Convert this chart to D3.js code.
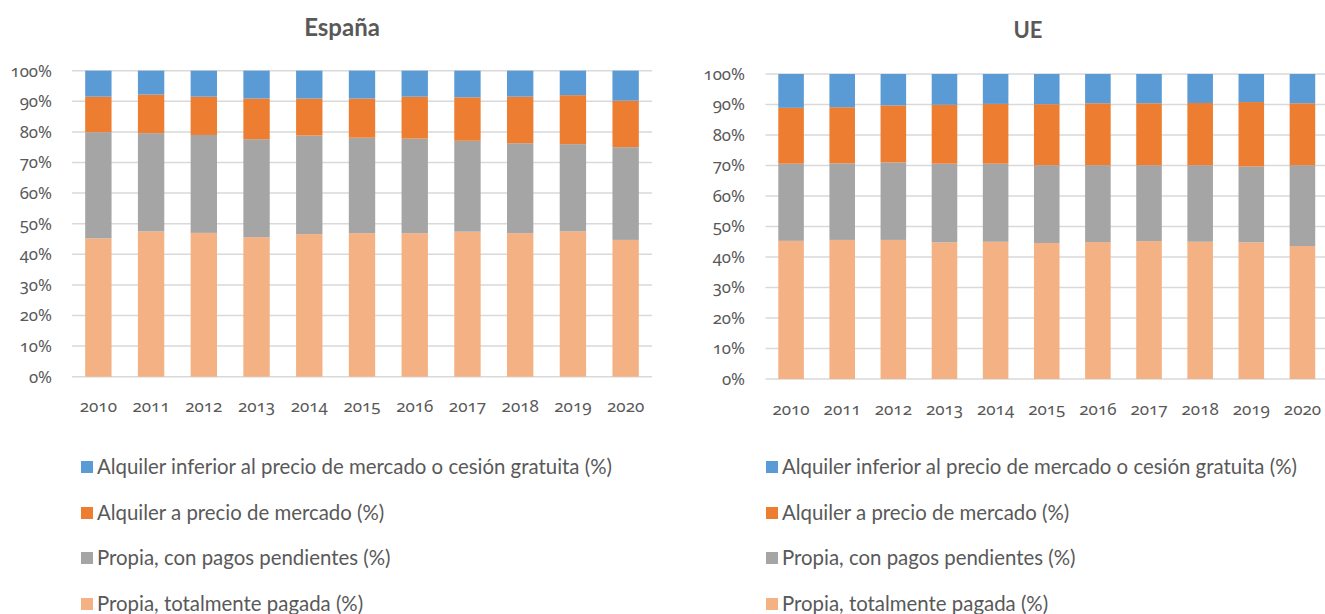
<!DOCTYPE html>
<html>
<head>
<meta charset="utf-8">
<script src="https://cdn.jsdelivr.net/npm/d3@7"></script>
<style>
  body { margin: 0; background: #fff; }
  svg { display: block; font-family: Lato, sans-serif; }
  text { fill: #595959; }
  .num { font-family: "Noto Sans", sans-serif; font-variant-numeric: oldstyle-nums; font-feature-settings: "onum" 1; }
</style>
</head>
<body>
<div id="chart"></div>
<script>
var years = ['2010', '2011', '2012', '2013', '2014', '2015', '2016', '2017', '2018', '2019', '2020'];

var seriesNames = [
  'Propia, totalmente pagada (%)',
  'Propia, con pagos pendientes (%)',
  'Alquiler a precio de mercado (%)',
  'Alquiler inferior al precio de mercado o cesión gratuita (%)'
];

var colors = ['#f4b183', '#a5a5a5', '#ed7d31', '#5b9bd5'];

var yTicks = [0, 0.1, 0.2, 0.3, 0.4, 0.5, 0.6, 0.7, 0.8, 0.9, 1];

// España
var esPagada = [45.2, 47.5, 47.0, 45.6, 46.6, 46.9, 46.9, 47.4, 46.9, 47.5, 44.7];
var esPendientes = [34.7, 32.1, 32.0, 32.0, 32.2, 31.2, 30.9, 29.7, 29.4, 28.5, 30.3];
var esMercado = [11.6, 12.6, 12.5, 13.3, 12.1, 12.8, 13.7, 14.2, 15.2, 16.0, 15.2];
var esInferior = [8.5, 7.8, 8.5, 9.1, 9.1, 9.1, 8.5, 8.7, 8.5, 8.0, 9.8];

// UE
var uePagada = [45.3, 45.6, 45.6, 44.8, 45.0, 44.6, 44.9, 45.2, 45.0, 44.8, 43.6];
var uePendientes = [25.3, 25.1, 25.4, 25.8, 25.6, 25.5, 25.2, 24.9, 25.1, 24.9, 26.5];
var ueMercado = [18.3, 18.4, 18.7, 19.3, 19.6, 20.0, 20.3, 20.3, 20.4, 21.1, 20.3];
var ueInferior = [11.1, 10.9, 10.3, 10.1, 9.8, 9.9, 9.6, 9.6, 9.5, 9.2, 9.6];

var svg = d3.select('#chart')
  .append('svg')
  .attr('width', 1325)
  .attr('height', 614);

function buildRows(cols) {
  return years.map(function(year, i) {
    var row = { year: year };
    seriesNames.forEach(function(name, k) {
      row[name] = cols[k][i];
    });
    return row;
  });
}

function drawPanel(config) {
  var g = svg.append('g');
  var rows = buildRows(config.cols);

  var x = d3.scaleBand()
    .domain(years)
    .range([config.left, config.right])
    .paddingInner(0.5)
    .paddingOuter(0.25);

  var y = d3.scaleLinear()
    .domain([0, 1])
    .range([config.bottom, config.top]);

  // gridlines
  g.append('g')
    .selectAll('line')
    .data(yTicks)
    .enter()
    .append('line')
    .attr('x1', config.left)
    .attr('x2', config.right)
    .attr('y1', function(d) { return y(d); })
    .attr('y2', function(d) { return y(d); })
    .attr('stroke', '#d9d9d9')
    .attr('stroke-width', 1.5);

  // y axis labels
  var yAxis = d3.axisLeft(y)
    .tickValues(yTicks)
    .tickFormat(d3.format('.0%'))
    .tickSize(0)
    .tickPadding(0);

  g.append('g')
    .attr('transform', 'translate(' + config.yLabelX + ',0)')
    .call(yAxis)
    .call(function(a) { a.select('.domain').remove(); })
    .selectAll('text')
    .attr('class', 'num')
    .style('font-size', '16.8px')
    .attr('fill', '#595959');

  // stacked bars
  var stack = d3.stack()
    .keys(seriesNames)
    .value(function(d, key) { return d[key] / 100; });

  var layers = g.append('g')
    .selectAll('g')
    .data(stack(rows))
    .enter()
    .append('g')
    .attr('fill', function(d, i) { return colors[i]; });

  layers.selectAll('rect')
    .data(function(d) { return d; })
    .enter()
    .append('rect')
    .attr('x', function(d) { return x(d.data.year); })
    .attr('width', x.bandwidth())
    .attr('y', function(d) { return y(d[1]); })
    .attr('height', function(d) { return y(d[0]) - y(d[1]); });

  // x axis labels
  var xAxis = d3.axisBottom(x)
    .tickSize(0)
    .tickPadding(0);

  g.append('g')
    .attr('transform', 'translate(0,' + config.xLabelY + ')')
    .call(xAxis)
    .call(function(a) { a.select('.domain').remove(); })
    .selectAll('text')
    .attr('class', 'num')
    .attr('dy', 0)
    .style('font-size', '17px')
    .attr('fill', '#595959');

  // title
  g.append('text')
    .attr('x', config.titleX)
    .attr('y', config.titleY)
    .attr('text-anchor', 'middle')
    .style('font-size', config.titleSize)
    .style('font-weight', 'bold')
    .text(config.title);

  // legend
  var legendOrder = [3, 2, 1, 0];
  var legendY = [467, 513, 558, 604];

  var items = g.append('g')
    .selectAll('g')
    .data(legendOrder)
    .enter()
    .append('g')
    .attr('transform', function(d, i) {
      return 'translate(' + config.legendX + ',' + legendY[i] + ')';
    });

  items.append('rect')
    .attr('x', 0)
    .attr('y', -6)
    .attr('width', 12)
    .attr('height', 12)
    .attr('fill', function(d) { return colors[d]; });

  items.append('text')
    .attr('x', 16)
    .attr('dy', '0.35em')
    .style('font-size', '20.4px')
    .text(function(d) { return seriesNames[d]; });
}

drawPanel({
  title: 'España',
  cols: [esPagada, esPendientes, esMercado, esInferior],
  left: 72, right: 652, top: 70.7, bottom: 376.7,
  yLabelX: 52, xLabelY: 412,
  titleX: 342, titleY: 36, titleSize: '24px',
  legendX: 81
});

drawPanel({
  title: 'UE',
  cols: [uePagada, uePendientes, ueMercado, ueInferior],
  left: 765.5, right: 1328, top: 74, bottom: 379,
  yLabelX: 745, xLabelY: 415,
  titleX: 1028, titleY: 38, titleSize: '22px',
  legendX: 766
});
</script>
</body>
</html>
